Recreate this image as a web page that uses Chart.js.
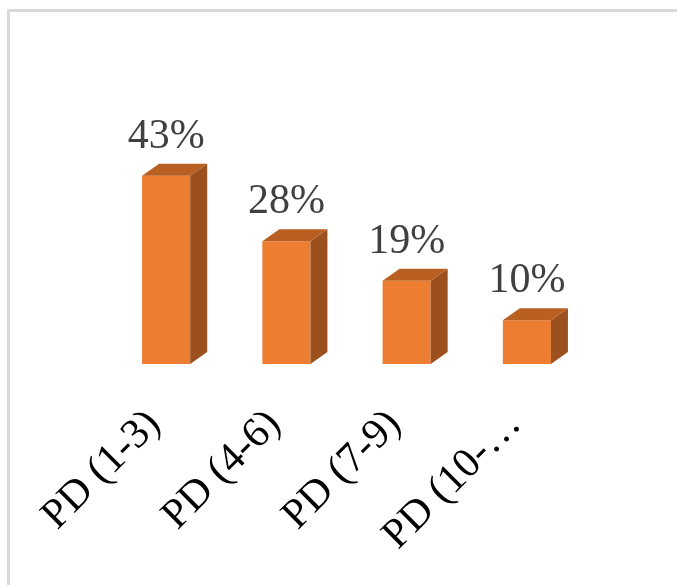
<!DOCTYPE html>
<html>
<head>
<meta charset="utf-8">
<script src="https://cdn.jsdelivr.net/npm/chart.js@4.4.1/dist/chart.umd.min.js"></script>
<style>
  html, body { margin: 0; padding: 0; background: #fff; overflow: hidden; }
  #wrap { position: relative; width: 677px; height: 585px; overflow: hidden; }
  #frame {
    position: absolute; left: 7px; top: 9px; width: 720px; height: 640px;
    border-left: 3px solid #d9d9d9; border-top: 3px solid #d9d9d9;
  }
  canvas { position: absolute; left: 0; top: 0; }
</style>
</head>
<body>
<div id="wrap">
  <div id="frame"></div>
  <canvas id="bar-chart" width="677" height="585"></canvas>
</div>
<script>
const categories = ['PD (1-3)', 'PD (4-6)', 'PD (7-9)', 'PD (10-\u2026'];
const shares = [43, 28, 19, 10];
const shareLabels = shares.map(v => v + '%');

// depth of the fake 3d box
const depthX = 17;
const depthY = 12;

const bar3d = {
  id: 'bar3d',
  afterDatasetsDraw(chart) {
    const ctx = chart.ctx;
    const meta = chart.getDatasetMeta(0);
    ctx.save();
    meta.data.forEach((bar, i) => {
      const { x, y, base, width } = bar.getProps(['x', 'y', 'base', 'width'], true);
      const l = x - width / 2;
      const r = x + width / 2;

      // right side
      ctx.fillStyle = '#9b501d';
      ctx.beginPath();
      ctx.moveTo(r, y);
      ctx.lineTo(r + depthX, y - depthY);
      ctx.lineTo(r + depthX, base - depthY);
      ctx.lineTo(r, base);
      ctx.closePath();
      ctx.fill();

      // top
      ctx.fillStyle = '#b95f22';
      ctx.beginPath();
      ctx.moveTo(l, y);
      ctx.lineTo(l + depthX, y - depthY);
      ctx.lineTo(r + depthX, y - depthY);
      ctx.lineTo(r, y);
      ctx.closePath();
      ctx.fill();

      // value label
      ctx.fillStyle = '#404040';
      ctx.font = '42px "Liberation Serif"';
      ctx.textAlign = 'center';
      ctx.textBaseline = 'alphabetic';
      ctx.fillText(shareLabels[i], x, y - depthY - 16);
    });
    ctx.restore();
  }
};

new Chart(document.getElementById('bar-chart'), {
  type: 'bar',
  data: {
    labels: categories,
    datasets: [{
      data: shares,
      backgroundColor: '#ed7d31',
      borderWidth: 0,
      categoryPercentage: 1,
      barPercentage: 0.4
    }]
  },
  options: {
    responsive: false,
    animation: false,
    layout: { padding: { top: 145, left: 106, right: 90, bottom: 2 } },
    plugins: {
      legend: { display: false },
      tooltip: { enabled: false }
    },
    scales: {
      y: { display: false, min: 0, max: 50 },
      x: {
        grid: { display: false },
        border: { display: false },
        ticks: {
          color: '#000',
          font: { family: '"Liberation Serif"', size: 42 },
          minRotation: 45,
          maxRotation: 45,
          padding: 28,
          labelOffset: -12
        },
        afterFit(scale) {
          scale.paddingLeft = 0;
          scale.paddingRight = 0;
        }
      }
    }
  },
  plugins: [bar3d]
});
</script>
</body>
</html>
